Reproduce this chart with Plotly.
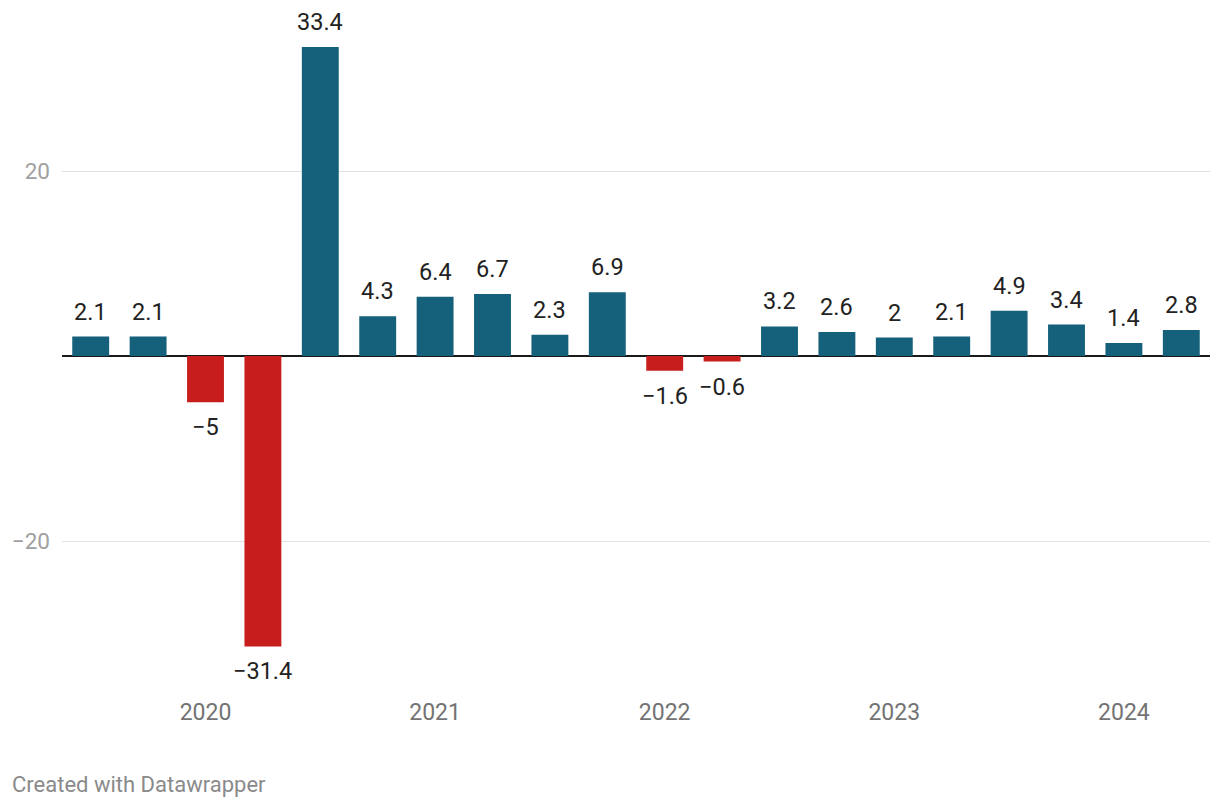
import plotly.graph_objects as go

quarters = ["2019 Q3", "2019 Q4", "2020 Q1", "2020 Q2", "2020 Q3", "2020 Q4",
            "2021 Q1", "2021 Q2", "2021 Q3", "2021 Q4", "2022 Q1", "2022 Q2",
            "2022 Q3", "2022 Q4", "2023 Q1", "2023 Q2", "2023 Q3", "2023 Q4",
            "2024 Q1", "2024 Q2"]
growth = [2.1, 2.1, -5, -31.4, 33.4, 4.3, 6.4, 6.7, 2.3, 6.9, -1.6, -0.6,
          3.2, 2.6, 2, 2.1, 4.9, 3.4, 1.4, 2.8]
year_ticks = ["2020 Q1", "2021 Q1", "2022 Q1", "2023 Q1", "2024 Q1"]
year_labels = ["2020", "2021", "2022", "2023", "2024"]
y_ticks = [-20, 20]

BLUE = "#15607a"
RED = "#c71e1d"
FONT = "Roboto"

colors = [BLUE if v >= 0 else RED for v in growth]

def fmt(v):
    s = ("%g" % v)
    return s.replace("-", "\u2212")

# page body has an 8px margin, so the figure is sized to fit inside it
W, H = 1212, 800
L, R, T, B = 54, 10, 2, 118
plot_h = H - T - B

fig = go.Figure()
fig.add_trace(go.Bar(x=quarters, y=growth, marker_color=colors,
                     marker_line_width=0, hoverinfo="x+y"))

for q, v in zip(quarters, growth):
    if v >= 0:
        fig.add_annotation(x=q, y=v, text=fmt(v), showarrow=False,
                           yanchor="bottom", yshift=9,
                           font=dict(family=FONT, size=23.5, color="#222222"))
    else:
        fig.add_annotation(x=q, y=v, text=fmt(v), showarrow=False,
                           yanchor="top", yshift=-9,
                           font=dict(family=FONT, size=23.5, color="#222222"))

fig.add_annotation(xref="paper", yref="paper", x=-(L - 2) / (W - L - R),
                   y=-(776 - (H - B)) / plot_h,
                   xanchor="left", yanchor="middle", showarrow=False,
                   text="Created with Datawrapper",
                   font=dict(family=FONT, size=22, color="#8a8a8a"))

px_per_unit = 9.25
zero_y = 348  # pixel row of zero within the figure
top = (zero_y - T) / px_per_unit
bottom = -((H - B) - zero_y) / px_per_unit

fig.update_layout(
    width=W, height=H,
    margin=dict(l=L, r=R, t=T, b=B),
    paper_bgcolor="white", plot_bgcolor="white",
    bargap=0.357,
    showlegend=False,
    font=dict(family=FONT),
    xaxis=dict(type="category", categoryorder="array", categoryarray=quarters,
               range=[-0.5, 19.5], tickmode="array", tickvals=year_ticks,
               ticktext=year_labels, showgrid=False, zeroline=False,
               showline=False, ticks="", ticklabelstandoff=6,
               tickfont=dict(family=FONT, size=23, color="#737373")),
    yaxis=dict(range=[bottom, top], tickmode="array", tickvals=y_ticks,
               showgrid=True, gridcolor="#e2e2e2", gridwidth=1,
               zeroline=True, zerolinecolor="#1a1a1a", zerolinewidth=2,
               showline=False, ticks="", ticklabelstandoff=11,
               tickfont=dict(family=FONT, size=22.5, color="#a0a0a0")),
)

fig.write_html("out.html")
